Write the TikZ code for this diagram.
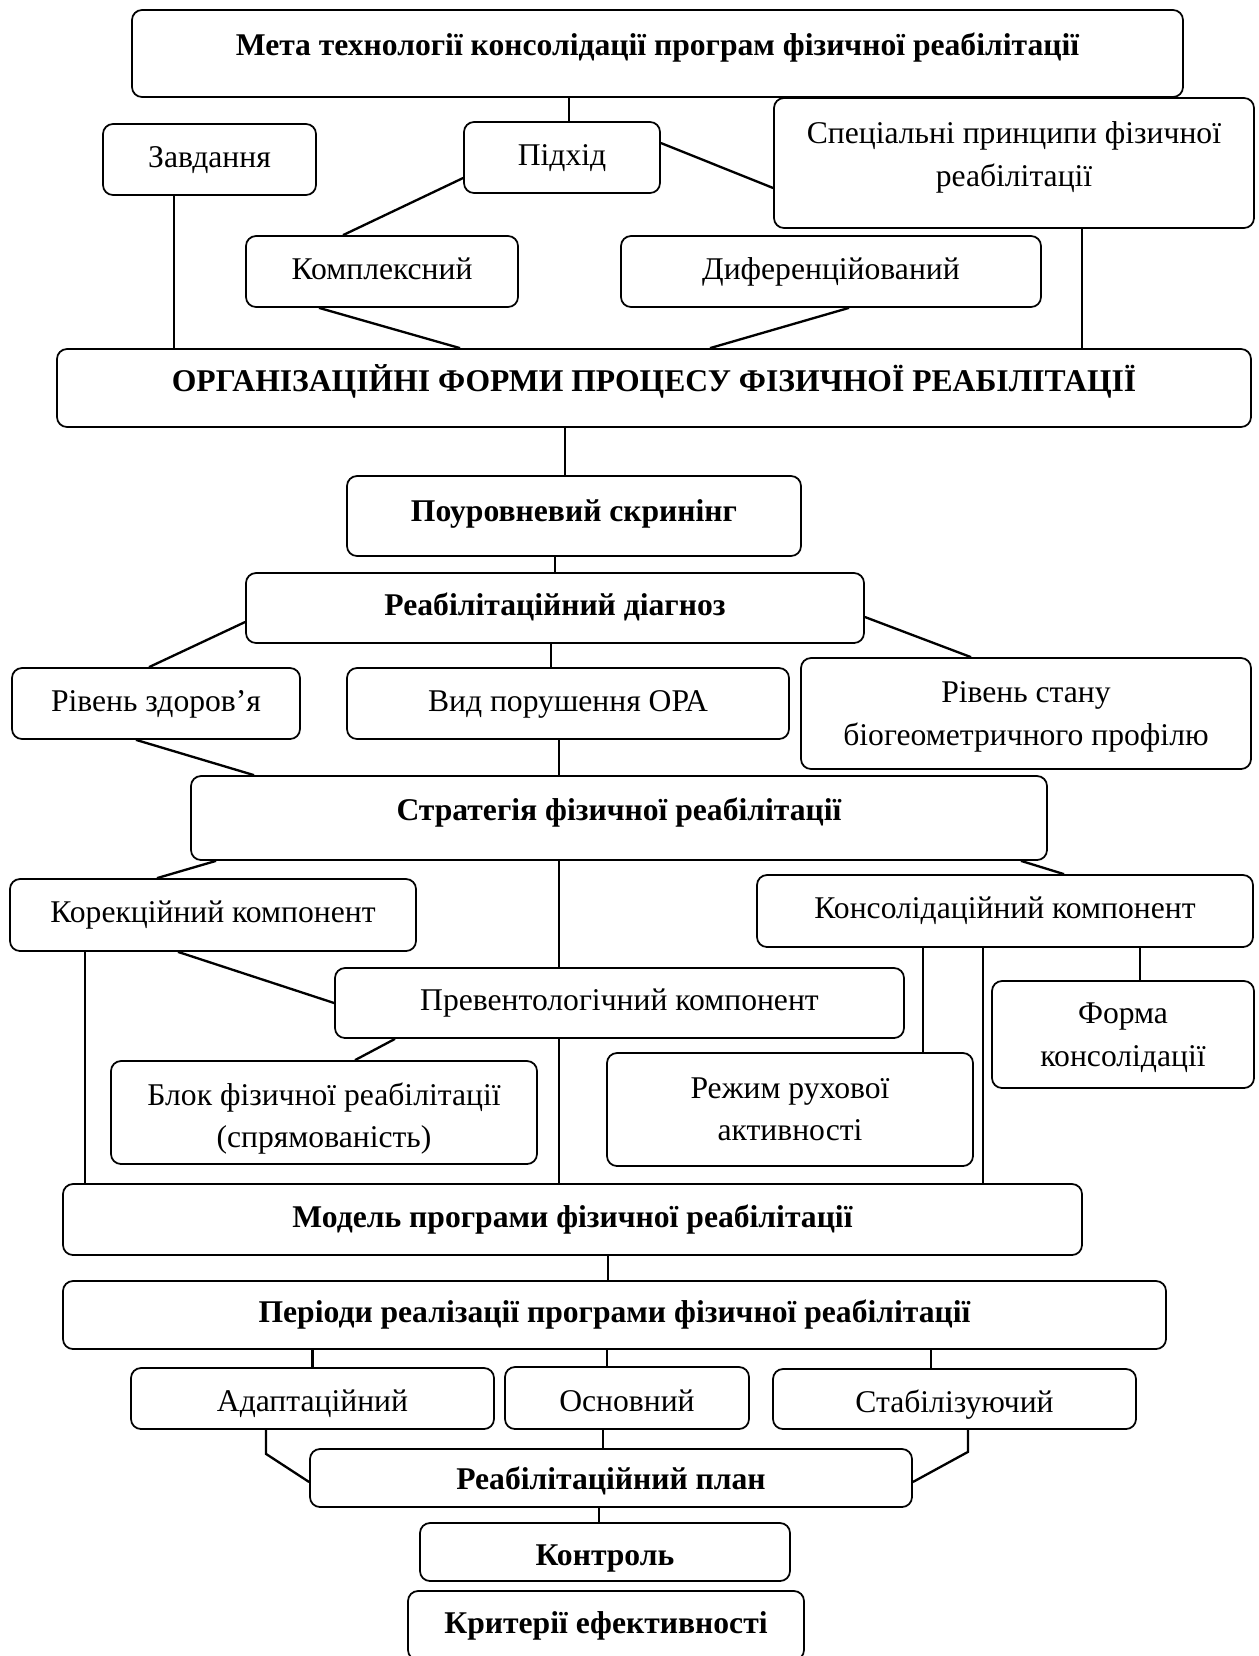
\documentclass[tikz,border=0pt]{standalone}
\usepackage{fontspec}
\setmainfont{Liberation Serif}
\usetikzlibrary{calc}
\newcommand{\pxu}{0.43pt}

\begin{document}
\begin{tikzpicture}[x=0.43pt, y=0.43pt, line width=1pt,
    box/.style={rectangle, draw, line width=0.75pt, rounded corners=4.3pt, align=center, inner sep=2pt,
        text height=10pt, text depth=3.4pt, font=\fontsize{13.6}{18.2}\selectfont},
    mainbox/.style={box, font=\fontsize{13.6}{18.2}\selectfont\bfseries},
    twoline/.style={text height=, text depth=#1},
    sz/.style 2 args={minimum width=#1*\pxu, minimum height=#2*\pxu}
]
\useasboundingbox (0,0) rectangle (1259,-1656);

% Level 1: goal, approach, principles
\node (meta) [mainbox, sz={1051}{87}, text depth=8.7pt] at (657.5,-53.5) {Мета технології консолідації програм фізичної реабілітації};
\node (zavd) [box, sz={213}{71}] at (209.5,-159.5) {Завдання};
\node (pidkhid) [box, sz={196}{71}] at (562,-157.5) {Підхід};
\node (spets) [box, sz={480}{130}, twoline=7.6pt] at (1014,-163) {Спеціальні принципи фізичної\\реабілітації};
\node (kompl) [box, sz={272}{71}] at (382,-271.5) {Комплексний};
\node (dyfer) [box, sz={420}{71}] at (831,-271.5) {Диференційований};
\node (orgforms) [mainbox, sz={1194}{78}, text depth=7pt] at (654,-388) {ОРГАНІЗАЦІЙНІ ФОРМИ ПРОЦЕСУ ФІЗИЧНОЇ РЕАБІЛІТАЦІЇ};

% Level 2: screening and diagnosis
\node (skryning) [mainbox, sz={454}{80}, text depth=5.2pt] at (574,-516) {Поуровневий скринінг};
\node (diagnoz) [mainbox, sz={618}{70}] at (555,-608) {Реабілітаційний діагноз};
\node (zdorov) [box, sz={288}{71}] at (156,-703.5) {Рівень здоров’я};
\node (porush) [box, sz={442}{71}] at (568,-703.5) {Вид порушення ОРА};
\node (profil) [box, sz={450}{111}, twoline=0pt] at (1026,-713.5) {Рівень стану\\біогеометричного профілю};
\node (stratehiia) [mainbox, sz={856}{84}, text depth=7.6pt] at (619,-818) {Стратегія фізичної реабілітації};

% Level 3: components
\node (korek) [box, sz={406}{72}] at (213,-915) {Корекційний компонент};
\node (konsol) [box, sz={496}{72}] at (1005,-911) {Консолідаційний компонент};
\node (prevent) [box, sz={569}{70}] at (619.5,-1003) {Превентологічний компонент};
\node (blok) [box, sz={426}{103}, text height=30.5pt, text depth=0pt] at (324,-1112.5) {Блок фізичної реабілітації\\(спрямованість)};
\node (rezhym) [box, sz={366}{113}, twoline=0.5pt] at (790,-1109.5) {Режим рухової\\активності};
\node (forma) [box, sz={262}{107}, twoline=0pt] at (1123,-1034.5) {Форма\\консолідації};
\node (model) [mainbox, sz={1019}{71}] at (572.5,-1219.5) {Модель програми фізичної реабілітації};

% Level 4: periods, plan, control
\node (periody) [mainbox, sz={1103}{68}] at (614.5,-1315) {Періоди реалізації програми фізичної реабілітації};
\node (adapt) [box, sz={363}{61}, text height=14.6pt] at (312.5,-1398.5) {Адаптаційний};
\node (osnov) [box, sz={244}{62}, text height=14.6pt] at (627,-1398) {Основний};
\node (stabil) [box, sz={363}{60}, text height=14.6pt] at (954.5,-1399) {Стабілізуючий};
\node (plan) [mainbox, sz={602}{58}, text height=13.6pt] at (611,-1478) {Реабілітаційний план};
\node (kontrol) [mainbox, sz={370}{58}, text height=15pt, text depth=3pt] at (605,-1552) {Контроль};
\node (kryterii) [mainbox, sz={396}{69}] at (606,-1625.5) {Критерії ефективності};

% Connections, level 1
\draw ($(pidkhid.north)+(7,0)$) -- ($(pidkhid.north |- meta.south)+(7,0)$);
\draw ($(pidkhid.east)+(0,14.5)$) -- ($(spets.west)+(0,-25)$);
\draw ($(pidkhid.west)+(0,-20.5)$) -- ($(kompl.north)+(-39,0)$);
\draw ($(zavd.south)+(-35.5,0)$) -- ($(zavd.south |- orgforms.north)+(-35.5,0)$);
\draw ($(spets.south)+(68,0)$) -- ($(spets.south |- orgforms.north)+(68,0)$);
\draw ($(kompl.south)+(-63,0)$) -- ($(orgforms.north)+(-194,0)$);
\draw ($(dyfer.south)+(18,0)$) -- ($(orgforms.north)+(56,0)$);

% Connections, level 2
\draw ($(skryning.north)+(-9,0)$) -- ($(skryning.north |- orgforms.south)+(-9,0)$);
\draw (diagnoz.north) -- (diagnoz.north |- skryning.south);
\draw ($(diagnoz.west)+(0,-14)$) -- ($(zdorov.north)+(-7,0)$);
\draw ($(diagnoz.east)+(0,-9)$) -- ($(profil.north)+(-55,0)$);
\draw ($(porush.north)+(-17,0)$) -- ($(porush.north |- diagnoz.south)+(-17,0)$);
\draw ($(zdorov.south)+(-20,0)$) -- ($(stratehiia.north)+(-365,0)$);
\draw ($(porush.south)+(-9,0)$) -- ($(porush.south |- stratehiia.north)+(-9,0)$);

% Connections, level 3
\draw ($(stratehiia.south)+(-403,0)$) -- ($(korek.north)+(-56,0)$);
\draw ($(prevent.north)+(-60.5,0)$) -- ($(prevent.north |- stratehiia.south)+(-60.5,0)$);
\draw ($(stratehiia.south)+(402,0)$) -- ($(konsol.north)+(59,0)$);
\draw ($(korek.south)+(-128,0)$) -- ($(korek.south |- model.north)+(-128,0)$);
\draw ($(korek.south)+(-35,0)$) -- (prevent.west);
\draw ($(prevent.south)+(-224.5,0)$) -- ($(blok.north)+(31,0)$);
\draw ($(prevent.south)+(-60.5,0)$) -- ($(prevent.south |- model.north)+(-60.5,0)$);
\draw ($(rezhym.north)+(133,0)$) -- ($(rezhym.north |- konsol.south)+(133,0)$);
\draw ($(konsol.south)+(-22,0)$) -- ($(konsol.south |- model.north)+(-22,0)$);
\draw ($(forma.north)+(17,0)$) -- ($(forma.north |- konsol.south)+(17,0)$);

% Connections, level 4
\draw ($(periody.north)+(-6.5,0)$) -- ($(periody.north |- model.south)+(-6.5,0)$);
\draw (adapt.north) -- (adapt.north |- periody.south);
\draw ($(osnov.north)+(-20,0)$) -- ($(osnov.north |- periody.south)+(-20,0)$);
\draw ($(stabil.north)+(-23.5,0)$) -- ($(stabil.north |- periody.south)+(-23.5,0)$);
\draw ($(adapt.south)+(-46.5,0)$) -- ++(0,-24) -- ($(plan.west)+(0,-4)$);
\draw ($(osnov.south)+(-24,0)$) -- ($(osnov.south |- plan.north)+(-24,0)$);
\draw ($(stabil.south)+(13.5,0)$) -- ++(0,-22) -- ($(plan.east)+(0,-4)$);
\draw ($(kontrol.north)+(-6,0)$) -- ($(kontrol.north |- plan.south)+(-6,0)$);

\end{tikzpicture}
\end{document}
